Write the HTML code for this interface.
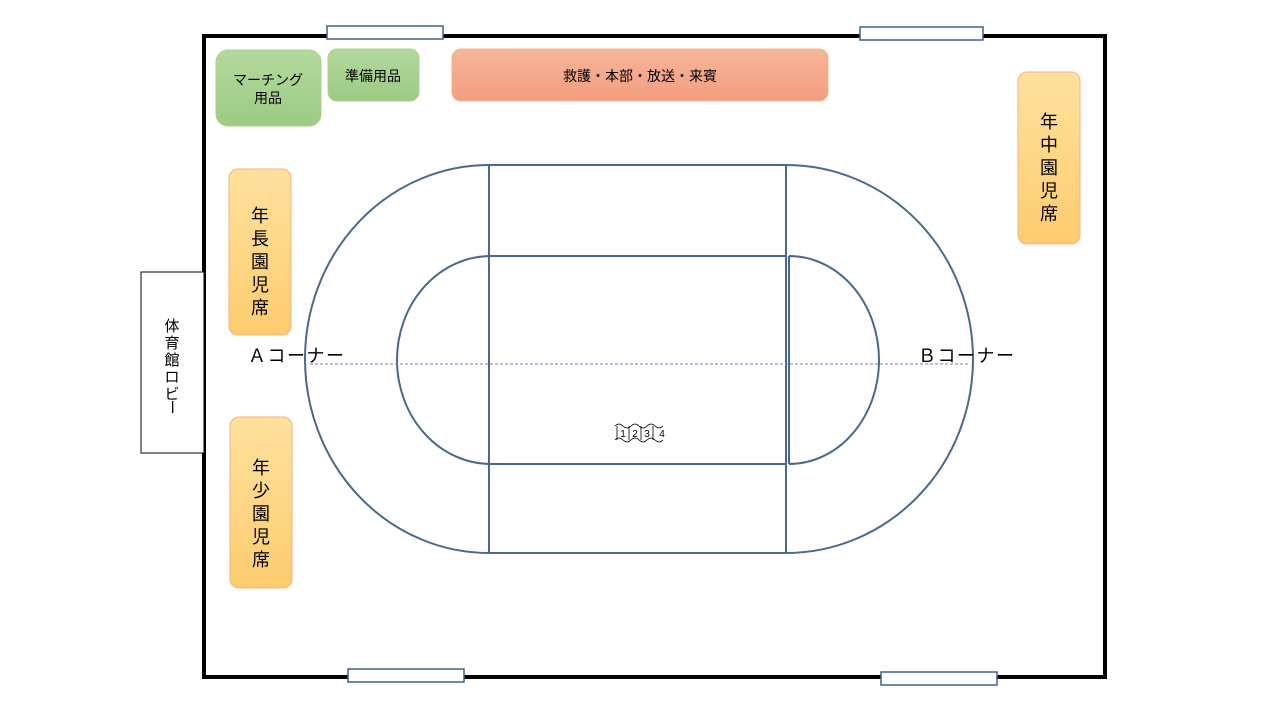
<!DOCTYPE html>
<html><head><meta charset="utf-8"><style>
body{margin:0;background:#fff;}
svg text{font-family:"Liberation Sans","Noto Sans CJK JP",sans-serif;}
</style></head><body>
<svg width="1280" height="720" xmlns="http://www.w3.org/2000/svg">
<defs>
<linearGradient id="g" x1="0" y1="0" x2="0" y2="1"><stop offset="0" stop-color="#b3d89c"/><stop offset="1" stop-color="#9ccb83"/></linearGradient>
<linearGradient id="o" x1="0" y1="0" x2="0" y2="1"><stop offset="0" stop-color="#fee19d"/><stop offset="1" stop-color="#fdcc6f"/></linearGradient>
<linearGradient id="r" x1="0" y1="0" x2="0" y2="1"><stop offset="0" stop-color="#f7b59a"/><stop offset="1" stop-color="#f39d7f"/></linearGradient>
</defs>
<rect x="204" y="36" width="901" height="641" fill="#fff" stroke="#000" stroke-width="4"/>
<g fill="#fff" stroke="#41618a" stroke-width="1.5">
<rect x="327" y="26" width="116" height="13"/>
<rect x="860" y="27" width="123" height="13"/>
<rect x="348" y="669" width="116" height="13"/>
<rect x="881" y="672" width="116" height="13"/>
</g>
<rect x="141" y="272" width="63" height="181" fill="#fff" stroke="#000" stroke-width="1"/>
<g font-size="15" text-anchor="middle">
<text x="172" y="331">体</text><text x="172" y="348">育</text><text x="172" y="365">館</text><text x="172" y="382">ロ</text><text x="172" y="399">ビ</text><text x="172" y="412" transform="rotate(90 172 407)">ー</text>
</g>
<rect x="216" y="50" width="105" height="76" rx="12" fill="url(#g)" stroke="#a9d18e"/>
<text x="268" y="85" font-size="14" text-anchor="middle">マーチング</text>
<text x="268" y="103" font-size="14" text-anchor="middle">用品</text>
<rect x="328" y="49" width="91" height="52" rx="9" fill="url(#g)" stroke="#a9d18e"/>
<text x="373" y="81" font-size="14" text-anchor="middle">準備用品</text>
<rect x="452" y="49" width="376" height="52" rx="9" fill="url(#r)" stroke="#f4b183"/>
<text x="640" y="81" font-size="14" text-anchor="middle">救護・本部・放送・来賓</text>
<g fill="url(#o)" stroke="#f4b183">
<rect x="229" y="169" width="62" height="166" rx="9"/>
<rect x="230" y="417" width="62" height="171" rx="9"/>
<rect x="1018" y="72" width="62" height="172" rx="9"/>
</g>
<g font-size="18" text-anchor="middle">
<text x="260" y="222">年</text><text x="260" y="245">長</text><text x="260" y="268">園</text><text x="260" y="291">児</text><text x="260" y="314">席</text>
<text x="261" y="474">年</text><text x="261" y="497">少</text><text x="261" y="520">園</text><text x="261" y="543">児</text><text x="261" y="566">席</text>
<text x="1049" y="128">年</text><text x="1049" y="151">中</text><text x="1049" y="174">園</text><text x="1049" y="197">児</text><text x="1049" y="220">席</text>
</g>
<g fill="none" stroke="#4a6890" stroke-width="2">
<path d="M489 165 L786 165 A187 194 0 0 1 786 553 L489 553 A184 194 0 0 1 489 165 Z"/>
<path d="M491 256 L786 256 M789 256 A90 104 0 0 1 789 464 M786 464 L491 464 A94 104 0 0 1 491 256"/>
<line x1="489" y1="165" x2="489" y2="553"/>
<line x1="786" y1="165" x2="786" y2="553"/>
<line x1="789" y1="256" x2="789" y2="464"/>
</g>
<line x1="310" y1="364" x2="970" y2="364" stroke="#6d86a8" stroke-width="1" stroke-dasharray="3,2"/>
<text x="248" y="362" font-size="18" letter-spacing="1.5">Ａコーナー</text>
<text x="918" y="362" font-size="18" letter-spacing="1.5">Ｂコーナー</text>
<g stroke="#000" stroke-width="0.8" fill="none">
<path d="M615 426 q4 -4 8 0 q4 4 8 0 q4 -4 8 0 q4 4 8 0 q4 -4 8 0 q4 4 8 0 M615 440 q4 -4 8 0 q4 4 8 0 q4 -4 8 0 q4 4 8 0 q4 -4 8 0 q4 4 8 0 M617 426v14 M629 426v14 M641 426v14 M653 426v14"/>
</g>
<g font-size="10" text-anchor="middle"><text x="623" y="437">1</text><text x="635" y="437">2</text><text x="647" y="437">3</text><text x="662" y="437">4</text></g>
</svg>
</body></html>
